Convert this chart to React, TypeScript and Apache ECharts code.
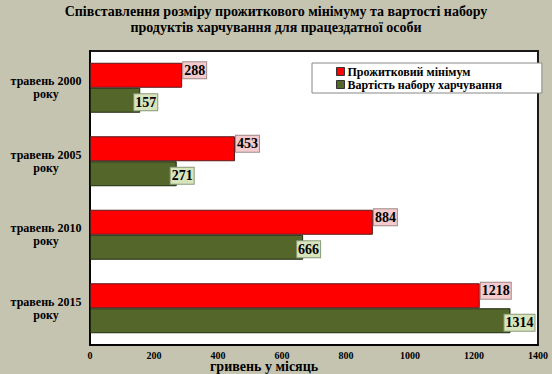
import React, { useEffect, useRef } from "react";
import * as echarts from "echarts";

const categories = ["травень 2000\nроку", "травень 2005\nроку", "травень 2010\nроку", "травень 2015\nроку"];
const seriesNames = ["Прожитковий мінімум", "Вартість набору харчування"];
const minimumValues = [288, 453, 884, 1218];
const foodValues = [157, 271, 666, 1314];
const titleLines = [
  "Співставлення розміру прожиткового мінімуму та вартості набору",
  "продуктів харчування для працездатної особи",
];
const xAxisName = "гривень у місяць";

const FONT = "Liberation Serif, Times New Roman, serif";

export default function App() {
  const ref = useRef<HTMLDivElement>(null);
  useEffect(() => {
    if (!ref.current) return;
    const chart = echarts.init(ref.current, undefined, { renderer: "svg" });
    chart.setOption({
      animation: false,
      backgroundColor: "#C5C4B1",
      title: {
        text: titleLines.join("\n"),
        left: "center",
        top: 3,
        padding: 0,
        textStyle: { fontFamily: FONT, fontWeight: "bold", fontSize: 14, lineHeight: 16, color: "#000" },
      },
      legend: {
        orient: "vertical",
        left: 312,
        top: 63,
        padding: [2, 40, 2, 24],
        itemGap: 0,
        itemWidth: 8,
        itemHeight: 8,
        backgroundColor: "#fff",
        borderColor: "#888",
        borderWidth: 1,
        icon: "rect",
        textStyle: { fontFamily: FONT, fontWeight: "bold", fontSize: 12, lineHeight: 13, color: "#000", padding: [0, 0, 0, -2] },
        itemStyle: { borderColor: "#333", borderWidth: 1 },
        data: seriesNames,
      },
      grid: {
        left: 90,
        right: 14,
        top: 51,
        bottom: 29,
        show: true,
        backgroundColor: "#fff",
        borderColor: "#1a1a1a",
        borderWidth: 2,
        containLabel: false,
      },
      xAxis: {
        type: "value",
        min: 0,
        max: 1400,
        interval: 200,
        splitLine: { show: false },
        axisLine: { show: true, lineStyle: { color: "#000", width: 1.5 } },
        axisTick: { show: false },
        axisLabel: {
          fontFamily: FONT,
          fontWeight: "bold",
          fontSize: 10,
          color: "#000",
          margin: 5,
          formatter: (v: number) => String(v),
        },
      },
      yAxis: {
        type: "category",
        inverse: true,
        data: categories,
        axisLine: { show: true, lineStyle: { color: "#000", width: 1.5 } },
        axisTick: { show: false },
        axisLabel: {
          fontFamily: FONT,
          fontWeight: "bold",
          fontSize: 12,
          lineHeight: 13,
          color: "#000",
          align: "center",
          margin: 44,
        },
      },
      graphic: [
        {
          type: "text",
          left: 210,
          top: 359,
          style: { text: xAxisName, fontFamily: FONT, fontWeight: "bold", fontSize: 14, fill: "#000" },
        },
      ],
      series: [
        {
          name: seriesNames[0],
          type: "bar",
          data: minimumValues,
          barGap: "0%",
          barCategoryGap: "32%",
          itemStyle: { color: "#FF0000", borderColor: "#5a1a1a", borderWidth: 1 },
          label: {
            show: true,
            position: "right",
            distance: 1,
            offset: [0, -5],
            fontFamily: FONT,
            fontWeight: "bold",
            fontSize: 14,
            lineHeight: 15,
            color: "#000",
            backgroundColor: "#F4CACC",
            borderColor: "#A08A8A",
            borderWidth: 1,
            padding: [1, 1, 0, 1],
          },
        },
        {
          name: seriesNames[1],
          type: "bar",
          data: foodValues,
          barGap: "0%",
          barCategoryGap: "32%",
          itemStyle: { color: "#546629", borderColor: "#1e2a10", borderWidth: 1 },
          label: {
            show: true,
            position: "right",
            distance: -6,
            offset: [0, 2],
            fontFamily: FONT,
            fontWeight: "bold",
            fontSize: 14,
            lineHeight: 15,
            color: "#000",
            backgroundColor: "#D7E4BC",
            borderColor: "#8A9A7A",
            borderWidth: 1,
            padding: [1, 1, 0, 1],
          },
        },
      ],
    });
    return () => chart.dispose();
  }, []);
  return <div ref={ref} style={{ width: 552, height: 374, position: "fixed", left: 0, top: 0 }} />;
}
